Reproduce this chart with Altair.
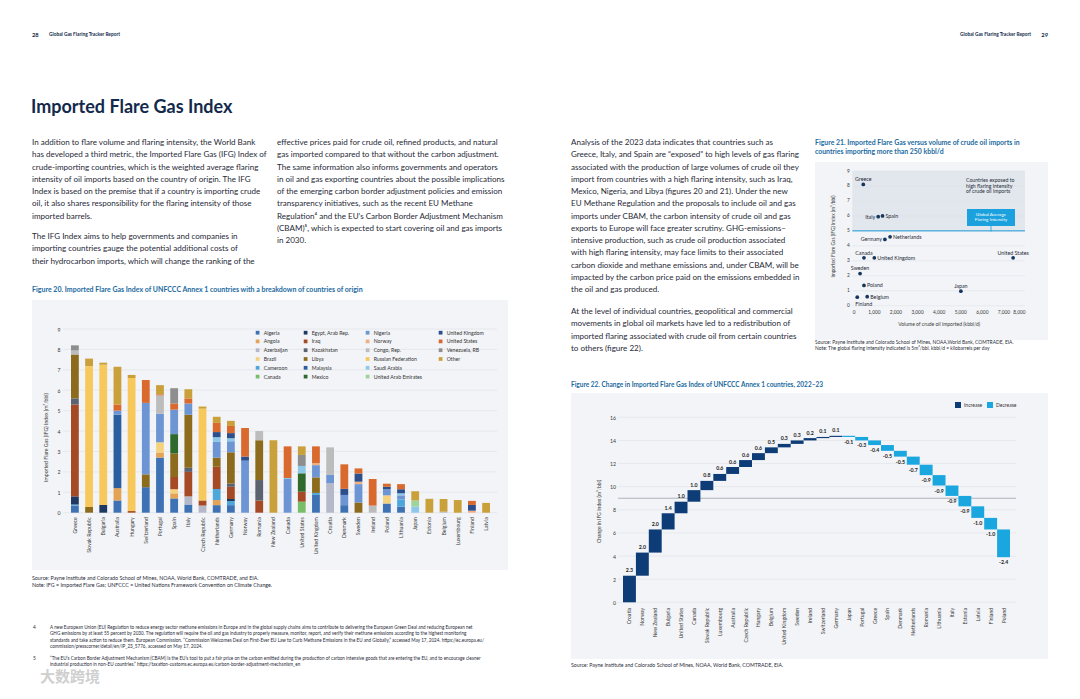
import altair as alt
import pandas as pd

# ---------------- Figure 20: stacked IFG index by origin ----------------
fig20_countries = ["Greece", "Slovak Republic", "Bulgaria", "Australia", "Hungary", "Switzerland",
                   "Portugal", "Spain", "Italy", "Czech Republic", "Netherlands", "Germany", "Norway",
                   "Romania", "New Zealand", "Canada", "United States", "United Kingdom", "Croatia",
                   "Denmark", "Sweden", "Ireland", "Poland", "Lithuania", "Japan", "Estonia", "Belgium",
                   "Luxembourg", "Finland", "Latvia"]

origins = ["Algeria", "Angola", "Azerbaijan", "Brazil", "Cameroon", "Canada",
           "Egypt, Arab Rep.", "Iraq", "Kazakhstan", "Libya", "Malaysia", "Mexico",
           "Nigeria", "Norway", "Congo, Rep.", "Russian Federation", "Saudi Arabia", "United Arab Emirates",
           "United Kingdom", "United States", "Venezuela, RB", "Other"]
origin_colors = ["#3f72b4", "#e5a455", "#b4b8c8", "#f5d37e", "#4ea7db", "#78bd68",
                 "#1f3a62", "#a54a24", "#5b6270", "#8c6c1c", "#2a5e9f", "#2f6a2c",
                 "#6e95d3", "#f0b084", "#bcbcbc", "#f7c85b", "#8ec8e8", "#9ed39b",
                 "#2c4f8c", "#d9692c", "#8e8e8e", "#c9a03a"]

greece = {"Algeria": 0.35, "Cameroon": 0.05, "Egypt, Arab Rep.": 0.4, "Iraq": 4.5, "Kazakhstan": 0.3,
          "Libya": 2.15, "Congo, Rep.": 0.2, "Venezuela, RB": 0.25}
slovak_republic = {"Libya": 0.28, "Russian Federation": 6.9, "Other": 0.37}
bulgaria = {"Egypt, Arab Rep.": 0.38, "Russian Federation": 6.87, "Other": 0.1}
australia = {"Algeria": 0.6, "Angola": 0.6, "Malaysia": 3.6, "Nigeria": 0.2, "United States": 0.3, "Other": 1.85}
hungary = {"Iraq": 0.08, "Russian Federation": 6.52, "Other": 0.15}
switzerland = {"Algeria": 1.25, "Libya": 0.63, "Nigeria": 3.5, "United States": 1.12}
portugal = {"Algeria": 2.7, "Angola": 0.25, "Brazil": 0.5, "Nigeria": 1.4, "Congo, Rep.": 0.9,
            "United States": 0.05, "Other": 0.45}
spain = {"Algeria": 0.7, "Angola": 0.25, "Brazil": 0.2, "Iraq": 0.6, "Libya": 1.15, "Mexico": 0.95,
         "Nigeria": 1.2, "United States": 0.3, "Venezuela, RB": 0.75}
italy = {"Algeria": 0.4, "Azerbaijan": 0.4, "Iraq": 1.2, "Kazakhstan": 0.2, "Libya": 2.6, "Nigeria": 0.55,
         "United States": 0.25, "Other": 0.45}
czech_republic = {"Azerbaijan": 0.35, "Iraq": 0.25, "Russian Federation": 4.5, "Other": 0.1}
netherlands = {"Algeria": 0.37, "Angola": 0.25, "Cameroon": 0.54, "Iraq": 1.09, "Libya": 0.45, "Nigeria": 0.77,
               "Saudi Arabia": 0.23, "United Kingdom": 0.25, "United States": 0.45, "Other": 0.3}
germany = {"Algeria": 0.37, "Cameroon": 0.2, "Egypt, Arab Rep.": 0.1, "Iraq": 0.6, "Kazakhstan": 0.16,
           "Libya": 1.53, "Nigeria": 0.54, "Saudi Arabia": 0.15, "United Kingdom": 0.25,
           "United States": 0.35, "Other": 0.25}
norway = {"Nigeria": 2.55, "United Kingdom": 0.2, "United States": 1.4}
romania = {"Iraq": 0.6, "Kazakhstan": 1.0, "Libya": 1.95, "Congo, Rep.": 0.45}
new_zealand = {"Other": 3.55}
canada = {"Nigeria": 1.65, "Saudi Arabia": 0.05, "United States": 1.55}
united_states = {"Canada": 0.54, "Iraq": 0.49, "Mexico": 0.9, "Saudi Arabia": 0.36, "Venezuela, RB": 0.54,
                 "Other": 0.42}
united_kingdom = {"Algeria": 0.87, "Cameroon": 0.1, "Libya": 0.76, "Nigeria": 0.6, "Norway": 0.1,
                  "United States": 0.82}
croatia = {"Azerbaijan": 1.45, "Nigeria": 0.4, "Congo, Rep.": 1.35}
denmark = {"Algeria": 0.37, "Nigeria": 0.5, "United Kingdom": 0.3, "United States": 1.2}
sweden = {"Libya": 0.5, "Nigeria": 0.9, "Norway": 0.12, "United Kingdom": 0.4, "United States": 0.25}
ireland = {"Congo, Rep.": 0.35, "United States": 1.3}
poland = {"Algeria": 0.45, "Brazil": 0.4, "Nigeria": 0.3, "United Kingdom": 0.12, "United States": 0.15}
lithuania = {"Algeria": 0.3, "Cameroon": 0.35, "Nigeria": 0.2, "Saudi Arabia": 0.1, "United Kingdom": 0.2,
             "United States": 0.25}
japan = {"Saudi Arabia": 0.3, "United Arab Emirates": 0.3, "Other": 0.45}
estonia = {"Other": 0.68}
belgium = {"Congo, Rep.": 0.05, "Other": 0.62}
luxembourg = {"Other": 0.62}
finland = {"Norway": 0.1, "United Kingdom": 0.28, "United States": 0.2}
latvia = {"Other": 0.48}

fig20_breakdown = [greece, slovak_republic, bulgaria, australia, hungary, switzerland, portugal, spain,
                   italy, czech_republic, netherlands, germany, norway, romania, new_zealand, canada,
                   united_states, united_kingdom, croatia, denmark, sweden, ireland, poland, lithuania,
                   japan, estonia, belgium, luxembourg, finland, latvia]

# ---------------- Figure 21: scatter ----------------
fig21_countries = ["Greece", "Italy", "Spain", "Germany", "Netherlands", "Canada", "United Kingdom",
                   "United States", "Sweden", "Poland", "Japan", "Belgium", "Finland"]
fig21_volume = [510, 1200, 1400, 1510, 1750, 540, 1020, 7450, 360, 540, 5030, 690, 230]
fig21_ifg = [8.1, 5.95, 6.0, 4.43, 4.6, 3.2, 3.2, 3.2, 2.15, 1.35, 0.97, 0.6, 0.57]
fig21_global_avg = 5

# ---------------- Figure 22: waterfall ----------------
fig22_countries = ["Croatia", "Norway", "New Zealand", "Bulgaria", "United States", "Canada",
                   "Slovak Republic", "Luxembourg", "Australia", "Czech Republic", "Hungary", "Belgium",
                   "United Kingdom", "Sweden", "Ireland", "Switzerland", "Germany", "Japan", "Portugal",
                   "Greece", "Spain", "Denmark", "Netherlands", "Romania", "Lithuania", "Italy", "Estonia",
                   "Latvia", "Finland", "Poland"]
fig22_change = [2.3, 2.0, 2.0, 1.4, 1.0, 1.0, 0.8, 0.6, 0.6, 0.6, 0.6, 0.5, 0.3, 0.3, 0.2, 0.1, 0.1,
                -0.1, -0.3, -0.4, -0.5, -0.5, -0.7, -0.9, -0.9, -0.9, -0.9, -1.0, -1.0, -2.4]

# ---------------- page layout helpers ----------------
W, H = 1064, 679
FONT = "Lato"
BODY = "#1f2a37"
NAVY = "#12294b"
CAP = "#1c6aa0"
PANEL = "#f2f4f7"
GRID = "#dde1e6"


def sx(v):
    return v - 8


def sy(v):
    return v - 8


one = pd.DataFrame({"k": [0]})


def tb(lines, x, y_first, size, lh=None, color=BODY, weight="normal", align="left", font=FONT):
    if isinstance(lines, str):
        lines = [lines]
    n = len(lines)
    lh = lh or size * 1.25
    text = lines if n > 1 else lines[0]
    return alt.Chart(one).mark_text(
        text=text, align=align, baseline="middle", fontSize=size, font=font,
        fontWeight=weight, color=color, lineHeight=lh
    ).encode(x=alt.value(sx(x)), y=alt.value(sy(y_first)))


def panel(x1, y1, x2, y2, color=PANEL):
    return alt.Chart(one).mark_rect(color=color).encode(
        x=alt.value(sx(x1)), x2=alt.value(sx(x2)), y=alt.value(sy(y1)), y2=alt.value(sy(y2)))


AX = dict(labelFont=FONT, labelColor="#3a3a3a", ticks=False, domain=False, grid=False, zindex=1,
          titleFont=FONT, titleColor="#3a3a3a", titleFontWeight="normal")

layers = []
layers += [panel(32, 300, 508, 570), panel(815, 162, 1048, 340), panel(571, 393, 1048, 659)]

# ---------------- texts ----------------
layers += [
    tb("28", 32, 35, 5.8, weight="bold", color=NAVY),
    tb("Global Gas Flaring Tracker Report", 49, 35, 4.8, weight="bold", color=NAVY),
    tb("29", 1048, 35, 5.8, weight="bold", color=NAVY, align="right"),
    tb("Global Gas Flaring Tracker Report", 1031, 35, 4.8, weight="bold", color=NAVY, align="right"),
    tb("Imported Flare Gas Index", 31, 108.4, 18.0, weight="bold", color=NAVY),
]

left_col1_p1 = [
    "In addition to flare volume and flaring intensity, the World Bank",
    "has developed a third metric, the Imported Flare Gas (IFG) Index of",
    "crude-importing countries, which is the weighted average flaring",
    "intensity of oil imports based on the country of origin. The IFG",
    "Index is based on the premise that if a country is importing crude",
    "oil, it also shares responsibility for the flaring intensity of those",
    "imported barrels."]
left_col1_p2 = [
    "The IFG Index aims to help governments and companies in",
    "importing countries gauge the potential additional costs of",
    "their hydrocarbon imports, which will change the ranking of the"]
left_col2 = [
    "effective prices paid for crude oil, refined products, and natural",
    "gas imported compared to that without the carbon adjustment.",
    "The same information also informs governments and operators",
    "in oil and gas exporting countries about the possible implications",
    "of the emerging carbon border adjustment policies and emission",
    "transparency initiatives, such as the recent EU Methane",
    "Regulation\u2074 and the EU\u2019s Carbon Border Adjustment Mechanism",
    "(CBAM)\u2075, which is expected to start covering oil and gas imports",
    "in 2030."]
right_p1 = [
    "Analysis of the 2023 data indicates that countries such as",
    "Greece, Italy, and Spain are \u201cexposed\u201d to high levels of gas flaring",
    "associated with the production of large volumes of crude oil they",
    "import from countries with a high flaring intensity, such as Iraq,",
    "Mexico, Nigeria, and Libya (figures 20 and 21). Under the new",
    "EU Methane Regulation and the proposals to include oil and gas",
    "imports under CBAM, the carbon intensity of crude oil and gas",
    "exports to Europe will face greater scrutiny. GHG-emissions\u2013",
    "intensive production, such as crude oil production associated",
    "with high flaring intensity, may face limits to their associated",
    "carbon dioxide  and methane emissions and, under CBAM, will be",
    "impacted by the carbon price paid on the emissions embedded in",
    "the oil and gas produced."]
right_p2 = [
    "At the level of individual countries, geopolitical and commercial",
    "movements in global oil markets have led to a redistribution of",
    "imported flaring associated with crude oil from certain countries",
    "to others (figure 22)."]

BS, LH = 8.05, 12.25
layers += [
    tb(left_col1_p1, 32, 143, BS, LH),
    tb(left_col1_p2, 32, 237, BS, LH),
    tb(left_col2, 277, 143, BS, LH),
    tb(right_p1, 571, 143, BS, LH),
    tb(right_p2, 571, 312, BS, LH),
]

layers += [
    tb("Figure 20. Imported Flare Gas Index of UNFCCC Annex 1 countries with a breakdown of countries of origin",
       32, 290, 7.0, weight="bold", color=CAP),
    tb(["Figure 21. Imported Flare Gas versus volume of crude oil imports in",
        "countries importing more than 250 kbbl/d"], 815, 143, 6.9, lh=8.8, weight="bold", color=CAP),
    tb("Figure 22. Change in Imported Flare Gas Index of UNFCCC Annex 1 countries, 2022\u201323",
       571, 385, 6.5, weight="bold", color=CAP),
    tb(["Source: Payne Institute and Colorado School of Mines, NOAA, World Bank, COMTRADE, and EIA.",
        "Note: IFG = Imported Flare Gas; UNFCCC = United Nations Framework Convention on Climate Change."],
       32, 578, 5.3, lh=7.4),
    tb(["Source: Payne Institute and Colorado School of Mines, NOAA,World Bank, COMTRADE, EIA.",
        "Note: The global flaring intensity indicated is 5m\u00b3/bbl. kbbl/d = kilobarrels per day"],
       815, 343, 4.9, lh=6.2),
    tb("Source: Payne Institute and Colorado School of Mines, NOAA, World Bank, COMTRADE, EIA.",
       571, 665, 5.2),
]

fn4 = [
    "A new European Union (EU) Regulation to reduce energy sector methane emissions in Europe and in the global supply chains aims to contribute to delivering the European Green Deal and reducing European net",
    "GHG emissions by at least 55 percent by 2030. The regulation will require the oil and gas industry to properly measure, monitor, report, and verify their methane emissions according to the highest monitoring",
    "standards and take action to reduce them. European Commission. \u201cCommission Welcomes Deal on First-Ever EU Law to Curb Methane Emissions in the EU and Globally,\u201d accessed May 17, 2024. https://ec.europa.eu/",
    "commission/presscorner/detail/en/IP_23_5776, accessed on May 17, 2024."]
fn5 = [
    "\u201cThe EU\u2019s Carbon Border Adjustment Mechanism (CBAM) is the EU\u2019s tool to put a fair price on the carbon emitted during the production of carbon intensive goods that are entering the EU, and to encourage cleaner",
    "industrial production in non-EU countries.\u201d https://taxation-customs.ec.europa.eu/carbon-border-adjustment-mechanism_en"]
layers += [
    tb("4", 33, 628, 4.8), tb(fn4, 50, 628, 4.62, lh=6.4),
    tb("5", 33, 659, 4.8), tb(fn5, 50, 659, 4.62, lh=6.4),
    tb("\u5927\u6570\u8de8\u5883", 40, 677, 15, weight="bold", color="#cfcfcf", font="Noto Sans CJK SC"),
]

# ---------------- Figure 20 chart ----------------
rows = []
for c, seg in zip(fig20_countries, fig20_breakdown):
    for o, v in seg.items():
        rows.append({"country": c, "origin": o, "value": v, "oidx": origins.index(o)})
df20 = pd.DataFrame(rows)

# legend: 4 columns of 6 entries, last column padded with two invisible blanks
leg_domain = origins + [" ", "  "]
leg_range = origin_colors + ["transparent", "transparent"]

y20 = alt.Scale(domain=[0, 9], range=[sy(512.7), sy(329)], nice=False, zero=False)

grid20 = alt.Chart(pd.DataFrame({"v": list(range(10))})).mark_rule(color=GRID, strokeWidth=0.6).encode(
    x=alt.value(sx(63)), x2=alt.value(sx(497)), y=alt.Y("v:Q", scale=y20, axis=None))

bars20 = alt.Chart(df20).mark_bar().encode(
    x=alt.X("country:N", sort=fig20_countries,
            scale=alt.Scale(range=[sx(71), sx(490)], paddingInner=0.45, paddingOuter=0),
            axis=alt.Axis(orient="bottom", offset=sy(512.7) - H, labelAngle=-90, labelFontSize=5.2,
                          labelPadding=4, title=None, labelOverlap=False, **AX)),
    y=alt.Y("value:Q", stack="zero", scale=y20,
            axis=alt.Axis(orient="left", offset=-sx(63), values=list(range(10)), labelFontSize=5.2,
                          labelPadding=3, title="Imported Flare Gas (IFG) Index (m\u00b3/bbl)",
                          titleFontSize=5.2, titleAngle=-90, titleBaseline="middle", titleAlign="center",
                          titleX=sx(45) - sx(63), titleY=sy(437), **AX)),
    color=alt.Color("origin:N", scale=alt.Scale(domain=leg_domain, range=leg_range),
                    legend=alt.Legend(orient="none", legendX=sx(255), legendY=sy(330), columns=4,
                                      direction="vertical",
                                      symbolType="square", symbolSize=14, symbolStrokeWidth=0,
                                      labelFontSize=5.2, labelFont=FONT, labelColor="#333",
                                      columnPadding=15, rowPadding=2.8, labelOffset=3.5,
                                      gridAlign="each", title=None, padding=0, labelLimit=200)),
    order=alt.Order("oidx:Q", sort="ascending"),
)
layers += [grid20, bars20]

# ---------------- Figure 21 chart ----------------
df21 = pd.DataFrame({"country": fig21_countries, "volume": fig21_volume, "ifg": fig21_ifg})
x21 = alt.Scale(domain=[0, 8000], range=[sx(852.3), sx(1025)], nice=False, zero=False)
y21 = alt.Scale(domain=[0, 9], range=[sy(305.7), sy(171)], nice=False, zero=False)

shade21 = alt.Chart(pd.DataFrame({"x0": [0], "x1": [8000], "y0": [fig21_global_avg], "y1": [9]})).mark_rect(
    color="#e2e7ed").encode(
    x=alt.X("x0:Q", scale=x21, axis=None), x2="x1:Q",
    y=alt.Y("y0:Q", scale=y21, axis=None), y2="y1:Q")
grid21 = alt.Chart(pd.DataFrame({"v": list(range(10))})).mark_rule(color="#dde2e8", strokeWidth=0.5).encode(
    x=alt.value(sx(852.3)), x2=alt.value(sx(1025)), y=alt.Y("v:Q", scale=y21, axis=None))
avg21 = alt.Chart(pd.DataFrame({"v": [fig21_global_avg]})).mark_rule(color="#1c9ad6", strokeWidth=1).encode(
    x=alt.value(sx(852.3)), x2=alt.value(sx(1025)), y=alt.Y("v:Q", scale=y21, axis=None))
pts21 = alt.Chart(df21).mark_circle(size=14, color="#15365f", opacity=1).encode(
    x=alt.X("volume:Q", scale=x21,
            axis=alt.Axis(orient="bottom", offset=sy(305.7) - H, values=list(range(0, 8001, 1000)),
                          format=",.0f", labelFontSize=4.8, labelPadding=4,
                          title="Volume of crude oil imported (kbbl/d)", titleFontSize=5,
                          titleBaseline="middle", titleY=17.3, **AX)),
    y=alt.Y("ifg:Q", scale=y21,
            axis=alt.Axis(orient="left", offset=-sx(852.3), values=list(range(10)), labelFontSize=4.8,
                          labelPadding=3, title="Imported Flare Gas (IFG) Index (m\u00b3/bbl)",
                          titleFontSize=4.8, titleAngle=-90, titleBaseline="middle", titleAlign="center",
                          titleX=sx(833) - sx(852.3), titleY=sy(236), **AX)))


def lab21(names, **kw):
    return alt.Chart(df21).transform_filter(
        alt.FieldOneOfPredicate(field="country", oneOf=names)
    ).mark_text(fontSize=5.3, font=FONT, color="#1f2a37", baseline="middle", **kw).encode(
        x=alt.X("volume:Q", scale=x21, axis=None), y=alt.Y("ifg:Q", scale=y21, axis=None), text="country:N")


labels21 = [
    lab21(["Greece", "Canada", "Sweden", "United States", "Japan"], align="center", dy=-5.3),
    lab21(["Italy", "Germany"], align="right", dx=-3),
    lab21(["Spain", "Netherlands", "United Kingdom", "Poland", "Belgium"], align="left", dx=3),
    lab21(["Finland"], align="left", dx=-2, dy=6.5),
]
box21 = [
    alt.Chart(one).mark_rect(color="#1ba1dd").encode(
        x=alt.value(sx(967)), x2=alt.value(sx(1015)), y=alt.value(sy(209)), y2=alt.value(sy(226))),
    alt.Chart(one).mark_rule(color="#1ba1dd", strokeWidth=0.8).encode(
        x=alt.value(sx(991)), y=alt.value(sy(226)), y2=alt.value(sy(231.5))),
    tb(["Global Average", "Flaring Intensity"], 991, 214.7, 4.6, lh=5.6, color="white", align="center"),
    tb(["Countries exposed to", "high flaring intensity", "of crude oil imports"], 966, 180, 5.2, lh=5.6,
       color="#1f2a37"),
]
layers += [shade21, grid21, avg21, pts21] + labels21 + box21

# ---------------- Figure 22 chart ----------------
rows = []
start = 0.0
for c, v in zip(fig22_countries, fig22_change):
    end = start + v
    rows.append({"country": c, "start": start, "end": end, "change": v,
                 "type": "Increase" if v > 0 else "Decrease", "label": f"{v:.1f}"})
    start = end
df22 = pd.DataFrame(rows)

x22 = alt.Scale(domain=fig22_countries, range=[sx(623), sx(1010)], paddingInner=0, paddingOuter=0)
y22 = alt.Scale(domain=[0, 16], range=[sy(602.3), sy(417.3)], nice=False, zero=False)

grid22 = alt.Chart(pd.DataFrame({"v": list(range(0, 17, 2))})).mark_rule(color=GRID, strokeWidth=0.6).encode(
    x=alt.value(sx(618)), x2=alt.value(sx(1016)), y=alt.Y("v:Q", scale=y22, axis=None))
ref22 = alt.Chart(pd.DataFrame({"v": [9]})).mark_rule(color="#9aa3ad", strokeWidth=0.8).encode(
    x=alt.value(sx(618)), x2=alt.value(sx(1016)), y=alt.Y("v:Q", scale=y22, axis=None))
bars22 = alt.Chart(df22).mark_bar().encode(
    x=alt.X("country:N", sort=fig22_countries, scale=x22,
            axis=alt.Axis(orient="bottom", offset=sy(602.3) - H, labelAngle=-90, labelFontSize=5.2,
                          labelPadding=5, title=None, labelOverlap=False, **AX)),
    y=alt.Y("start:Q", scale=y22,
            axis=alt.Axis(orient="left", offset=-sx(618), values=list(range(0, 17, 2)), labelFontSize=5.2,
                          labelPadding=2.5, title="Change in IFG Index (m\u00b3/bbl)", titleFontSize=5,
                          titleAngle=-90, titleBaseline="middle", titleAlign="center",
                          titleX=sx(598) - sx(618), titleY=sy(511), **AX)),
    y2="end:Q",
    color=alt.Color("type:N", scale=alt.Scale(domain=["Increase", "Decrease"], range=["#0d3c77", "#1aa6df"]),
                    legend=alt.Legend(orient="none", legendX=sx(955), legendY=sy(402), direction="horizontal",
                                      symbolType="square", symbolSize=36, symbolStrokeWidth=0,
                                      labelFontSize=5, labelFont=FONT, labelColor="#333", columnPadding=4,
                                      labelOffset=3, title=None, padding=0)),
)


def lab22(kind, dy, baseline):
    return alt.Chart(df22).transform_filter(alt.datum.type == kind).mark_text(
        fontSize=5.2, font=FONT, fontWeight="bold", color="#222", baseline=baseline, dy=dy).encode(
        x=alt.X("country:N", sort=fig22_countries, scale=x22, axis=None),
        y=alt.Y("end:Q", scale=y22, axis=None), text="label:N")


layers += [grid22, ref22, bars22, lab22("Increase", -5.5, "middle"), lab22("Decrease", 5, "middle")]

chart = alt.layer(*layers).resolve_scale(
    x="independent", y="independent", color="independent"
).properties(
    width=W, height=H, autosize=alt.AutoSizeParams(type="none"), padding=0, background="white"
).configure_view(stroke=None)

chart.save("out.html", embed_options={"renderer": "svg", "actions": False})
